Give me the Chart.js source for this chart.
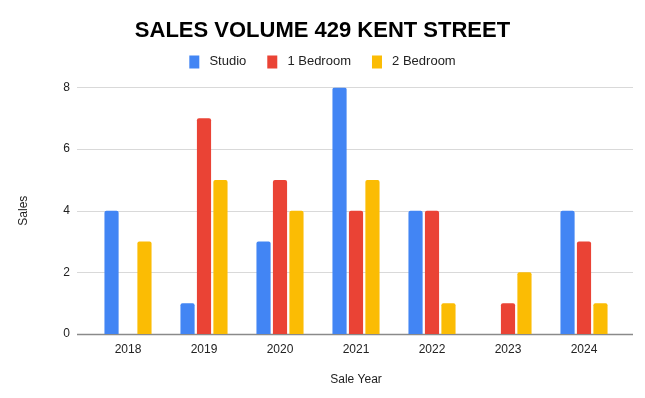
<!DOCTYPE html>
<html>
<head>
<meta charset="utf-8">
<script src="https://cdn.jsdelivr.net/npm/chart.js@4"></script>
<style>
    html, body { margin: 0; padding: 0; background: #fff; }
    #wrap { width: 645px; height: 398px; }
</style>
</head>
<body>
<div id="wrap"><canvas id="chart"></canvas></div>
<script>
const YEARS = ["2018", "2019", "2020", "2021", "2022", "2023", "2024"];
const STUDIO = [4, 1, 3, 8, 4, 0, 4];
const ONE_BED = [0, 7, 5, 4, 4, 1, 3];
const TWO_BED = [3, 5, 4, 5, 1, 2, 1];
const Y_TICKS = [0, 2, 4, 6, 8];

const FONT = "'Liberation Sans', Arial, sans-serif";

// horizontal grid lines that run a little past the plot area, like Sheets does
const gridPlugin = {
    id: "sheetGrid",
    beforeDatasetsDraw(chart) {
        const { ctx, chartArea, scales } = chart;
        const y = scales.y;
        ctx.save();
        Y_TICKS.forEach((v) => {
            const py = Math.round(y.getPixelForValue(v)) + 0.5;
            ctx.beginPath();
            ctx.strokeStyle = v === 0 ? "#8a8a8a" : "#d9d9d9";
            ctx.lineWidth = v === 0 ? 1.5 : 1;
            ctx.moveTo(chartArea.left - 13, py);
            ctx.lineTo(chartArea.right + 11, py);
            ctx.stroke();
        });
        ctx.restore();
    }
};

// a bit more room under the legend than its own padding gives
const legendGap = {
    id: "legendGap",
    afterInit(chart) {
        const fit = chart.legend.fit;
        chart.legend.fit = function () {
            fit.call(this);
            this.height += 9;
        };
    }
};

const makeSet = (label, data, color) => ({
    label,
    data,
    backgroundColor: color,
    borderRadius: { topLeft: 2, topRight: 2 },
    borderSkipped: "bottom",
    categoryPercentage: 0.65,
    barPercentage: 0.86
});

new Chart(document.getElementById("chart"), {
    type: "bar",
    data: {
        labels: YEARS,
        datasets: [
            makeSet("Studio", STUDIO, "#4285f4"),
            makeSet("1 Bedroom", ONE_BED, "#ea4335"),
            makeSet("2 Bedroom", TWO_BED, "#fbbc04")
        ]
    },
    options: {
        responsive: true,
        maintainAspectRatio: false,
        animation: false,
        layout: { padding: { top: 13, right: 0, left: 0, bottom: 0 } },
        plugins: {
            title: {
                display: true,
                text: "SALES VOLUME 429 KENT STREET",
                color: "#000",
                font: { family: FONT, size: 22, weight: "bold" },
                padding: { top: 5, bottom: -10 }
            },
            legend: {
                position: "top",
                labels: {
                    color: "#222",
                    font: { family: FONT, size: 13 },
                    boxWidth: 10,
                    boxHeight: 13,
                    padding: 21,
                    generateLabels: (chart) =>
                        Chart.defaults.plugins.legend.labels
                            .generateLabels(chart)
                            .map((l) => ({ ...l, text: " " + l.text }))
                }
            },
            tooltip: { enabled: false }
        },
        scales: {
            x: {
                grid: { display: false },
                border: { display: false },
                ticks: { color: "#222", font: { family: FONT, size: 12 }, padding: 0 },
                title: {
                    display: true,
                    text: "Sale Year",
                    color: "#222",
                    font: { family: FONT, size: 12 },
                    padding: { top: 10, bottom: 11 }
                },
                afterFit: (scale) => { scale.height = 64; }
            },
            y: {
                min: 0,
                max: 8,
                afterBuildTicks: (scale) => {
                    scale.ticks = Y_TICKS.map((v) => ({ value: v }));
                },
                grid: { display: false },
                border: { display: false },
                ticks: { color: "#222", font: { family: FONT, size: 12 }, padding: 12 },
                title: {
                    display: true,
                    text: "Sales",
                    color: "#222",
                    font: { family: FONT, size: 12 },
                    padding: { top: 16, bottom: 0 }
                },
                afterFit: (scale) => { scale.width = 90; }
            },
            // empty right axis, only reserves the right margin so title/legend stay centred
            yRight: {
                position: "right",
                display: true,
                grid: { display: false },
                border: { display: false },
                ticks: { display: false },
                afterFit: (scale) => { scale.width = 23; }
            }
        }
    },
    plugins: [gridPlugin, legendGap]
});
</script>
</body>
</html>
